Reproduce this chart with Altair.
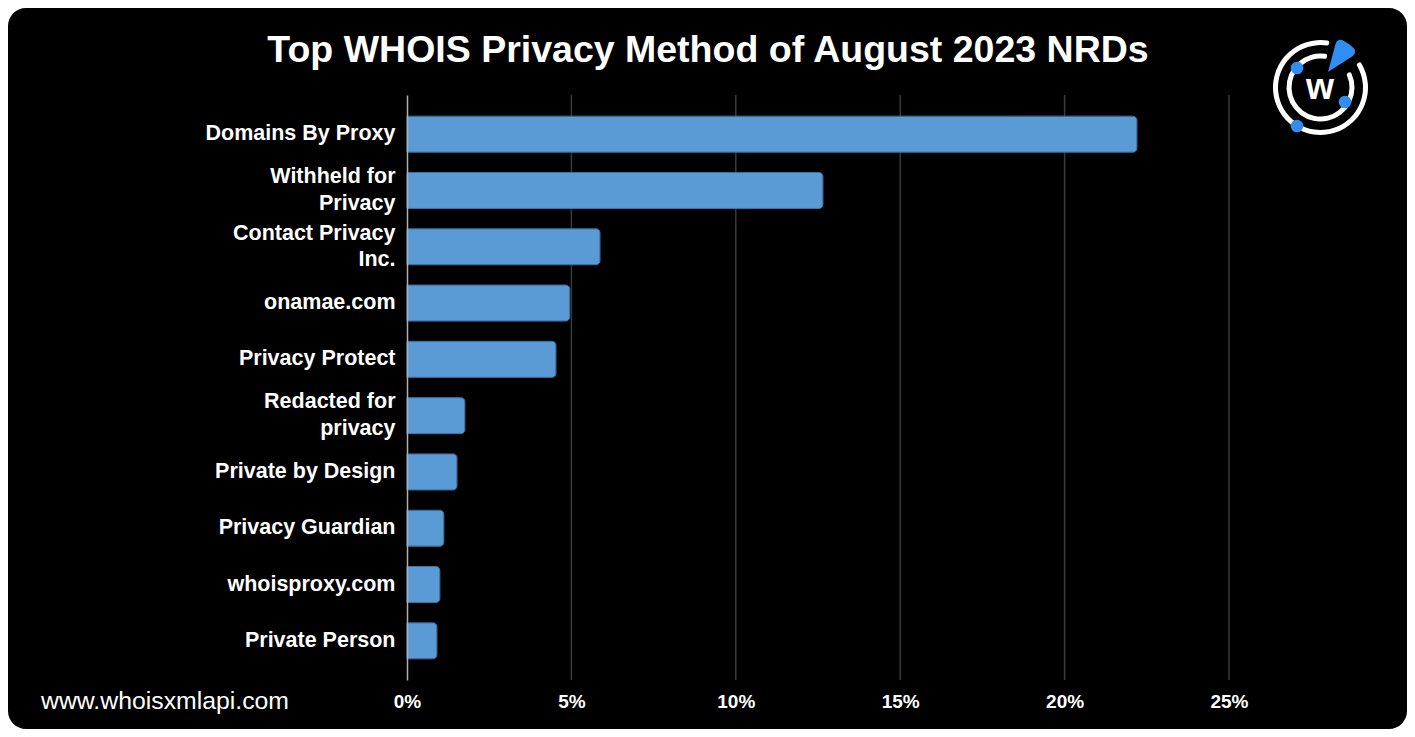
import altair as alt
import pandas as pd

categories = ["Domains By Proxy", "Withheld for\nPrivacy", "Contact Privacy\nInc.", "onamae.com",
              "Privacy Protect", "Redacted for\nprivacy", "Private by Design", "Privacy Guardian",
              "whoisproxy.com", "Private Person"]
shares = [22.2, 12.65, 5.87, 4.95, 4.53, 1.76, 1.52, 1.12, 1.0, 0.91]
tick_values = [0, 5, 10, 15, 20, 25]
grid_values = [5, 10, 15, 20, 25]
title_text = "Top WHOIS Privacy Method of August 2023 NRDs"
footer_text = "www.whoisxmlapi.com"

FONT = "Liberation Sans"
W, H = 822, 585
PAD = {"left": 399, "top": 87, "right": 178, "bottom": 49}
LH = 26.5

df = pd.DataFrame({"method": categories, "share": shares})
grid_df = pd.DataFrame({"t": grid_values})
one = pd.DataFrame({"a": [0]})

xscale = alt.Scale(domain=[0, 25], nice=False, zero=True)

background = alt.Chart(one).mark_rect(color="black", cornerRadius=18).encode(
    x=alt.value(-PAD["left"]), x2=alt.value(W + PAD["right"]),
    y=alt.value(-PAD["top"]), y2=alt.value(H + PAD["bottom"]))

grid = alt.Chart(grid_df).mark_rule(color="#3a3a3a", strokeWidth=1.5).encode(
    x=alt.X("t:Q", scale=xscale), y=alt.value(0), y2=alt.value(H))

bars = alt.Chart(df).mark_bar(
    color="#5b9bd5", stroke="#3f74a8", strokeWidth=1,
    cornerRadiusTopRight=4, cornerRadiusBottomRight=4).encode(
    x=alt.X("share:Q", scale=xscale,
            axis=alt.Axis(values=tick_values, labelExpr="datum.value + '%'", title=None,
                          grid=False, domain=False, ticks=False, labelFlush=False,
                          labelPadding=12, labelFontSize=19, labelFontWeight="bold",
                          labelColor="white", labelFont=FONT, zindex=1)),
    y=alt.Y("method:N", sort=categories,
            scale=alt.Scale(paddingInner=0.36, paddingOuter=0.376),
            axis=alt.Axis(title=None, ticks=False, domain=True, domainColor="#b0b0b0",
                          domainWidth=1.5, labelPadding=12, labelFontSize=21.5,
                          labelFontWeight="bold", labelColor="white", labelFont=FONT,
                          labelLimit=400, labelLineHeight=LH,
                          labelOffset={"condition": {"test": "indexof(datum.label, '\\n') >= 0",
                                                     "value": -LH / 2},
                                       "value": 0},
                          labelExpr="split(datum.label, '\\n')", zindex=1)))

title = alt.Chart(one).mark_text(
    text=title_text, fontSize=37.5, fontWeight="bold", color="white", font=FONT,
    align="center", baseline="middle").encode(x=alt.value(301), y=alt.value(-44))

footer = alt.Chart(one).mark_text(
    text=footer_text, fontSize=24.8, color="white", font=FONT,
    align="left", baseline="middle").encode(x=alt.value(-366), y=alt.value(607))

# logo
cx, cy = 913.5, -7.5
deg = 3.14159265 / 180
BLUE = "#2f8ef0"
outer_ring = alt.Chart(one).mark_arc(radius=47.5, radius2=42.5, theta=57 * deg, theta2=371 * deg,
                                     color="white", cornerRadius=2).encode(
    x=alt.value(cx), y=alt.value(cy))
mid_ring = alt.Chart(one).mark_arc(radius=34, radius2=29, theta=62 * deg, theta2=372 * deg,
                                   color="white", cornerRadius=2).encode(
    x=alt.value(cx), y=alt.value(cy))
wedge = alt.Chart(one).mark_arc(radius=35, theta=15 * deg, theta2=57 * deg,
                                color=BLUE, cornerRadius=5).encode(
    x=alt.value(921), y=alt.value(-23))
dot1 = alt.Chart(one).mark_circle(size=160, color=BLUE, opacity=1).encode(
    x=alt.value(890), y=alt.value(-27))
dot2 = alt.Chart(one).mark_circle(size=160, color=BLUE, opacity=1).encode(
    x=alt.value(938), y=alt.value(7))
dot3 = alt.Chart(one).mark_circle(size=160, color=BLUE, opacity=1).encode(
    x=alt.value(890), y=alt.value(31))
wletter = alt.Chart(one).mark_text(text="w", fontSize=36, fontWeight="bold", color="white",
                                   font=FONT, align="center", baseline="middle").encode(
    x=alt.value(913), y=alt.value(-7))

chart = alt.layer(background, grid, bars, title, footer,
                  outer_ring, mid_ring, wedge, dot1, dot2, dot3, wletter).properties(
    width=W, height=H, padding=PAD,
    autosize=alt.AutoSizeParams(type="none"),
    background="white",
).configure_view(stroke=None)

chart.save("out.html", embed_options={"renderer": "svg", "actions": False})
